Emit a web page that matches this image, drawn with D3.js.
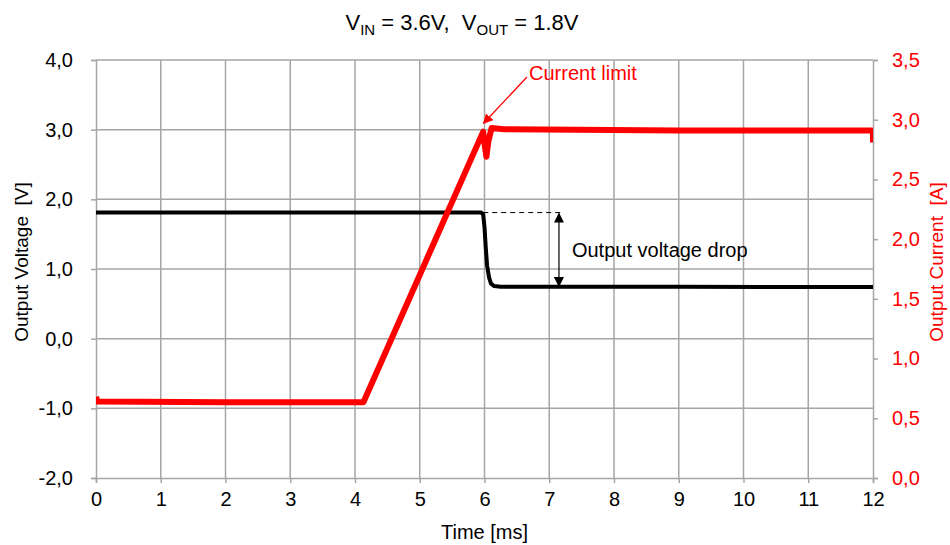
<!DOCTYPE html>
<html>
<head>
<meta charset="utf-8">
<script src="https://cdn.jsdelivr.net/npm/d3@7"></script>
<style>
  body { margin: 0; background: #fff; }
  svg text { font-family: Arial, "Liberation Sans", sans-serif; }
</style>
</head>
<body>
<div id="chart"></div>
<script>
// time [ms] / output voltage [V]
var voltTime = [0, 5.95, 5.98, 6.0, 6.02, 6.04, 6.07, 6.1, 6.15, 6.25, 9, 12];
var voltValues = [1.81, 1.81, 1.78, 1.6, 1.3, 1.05, 0.88, 0.79, 0.755, 0.745, 0.745, 0.74];

// time [ms] / output current [A]
var currTime = [0, 0.02, 2, 4.13, 5.98, 6.0, 6.03, 6.06, 6.11, 6.3, 9, 11.98, 12, 12];
var currValues = [0.68, 0.64, 0.635, 0.635, 2.90, 2.80, 2.69, 2.82, 2.93, 2.92, 2.91, 2.91, 2.90, 2.81];

var xTicks = d3.range(0, 13, 1);
var yLeftTicks = [-2, -1, 0, 1, 2, 3, 4];
var yRightTicks = [0, 0.5, 1, 1.5, 2, 2.5, 3, 3.5];

var width = 950, height = 545;
var margin = {top: 60, right: 77, bottom: 67, left: 96};
var w = width - margin.left - margin.right;
var h = height - margin.top - margin.bottom;
var gridColor = "#a6a6a6";
// comma decimals, plain hyphen for negatives
var fmt = function(d){ return d3.format(".1f")(d).replace(".", ",").replace("\u2212", "-"); };

var svg = d3.select("#chart").append("svg")
    .attr("width", width)
    .attr("height", height);

var defs = svg.append("defs");
defs.append("clipPath").attr("id", "clip")
  .append("rect").attr("width", w).attr("height", h);
function marker(id, color) {
  defs.append("marker")
      .attr("id", id)
      .attr("viewBox", "0 0 10 10")
      .attr("refX", 9).attr("refY", 5)
      .attr("markerWidth", 10).attr("markerHeight", 10)
      .attr("markerUnits", "userSpaceOnUse")
      .attr("orient", "auto-start-reverse")
    .append("path")
      .attr("d", "M0,0L10,5L0,10Z")
      .attr("fill", color);
}
marker("arrRed", "#ff0000");
marker("arrBlack", "#000");

var g = svg.append("g").attr("transform", "translate(" + margin.left + "," + margin.top + ")");

var x = d3.scaleLinear().domain([0, 12]).range([0, w]);
var yL = d3.scaleLinear().domain([-2, 4]).range([h, 0]);
var yR = d3.scaleLinear().domain([0, 3.5]).range([h, 0]);

//-------------------------------
// grid
g.append("g").selectAll("line")
  .data(xTicks.slice(1, -1)).enter().append("line")
    .attr("x1", function(d){ return x(d); }).attr("x2", function(d){ return x(d); })
    .attr("y1", 0).attr("y2", h)
    .attr("stroke", gridColor).attr("stroke-width", 1.5);
g.append("g").selectAll("line")
  .data(yLeftTicks.slice(1)).enter().append("line")
    .attr("x1", 0).attr("x2", w)
    .attr("y1", function(d){ return yL(d); }).attr("y2", function(d){ return yL(d); })
    .attr("stroke", gridColor).attr("stroke-width", 1.5);

//-------------------------------
// axes
function styleAxis(sel, color) {
  sel.select(".domain").attr("stroke", gridColor).attr("stroke-width", 1.5);
  sel.selectAll(".tick line").attr("stroke", gridColor).attr("stroke-width", 1.5);
  sel.selectAll(".tick text").attr("fill", color).style("font-size", "20px");
}

var xAxis = g.append("g")
    .attr("transform", "translate(0," + h + ")")
    .call(d3.axisBottom(x).tickValues(xTicks).tickFormat(d3.format("d")).tickSizeOuter(0).tickSize(5).tickPadding(9));
styleAxis(xAxis, "#000");

var yAxisL = g.append("g")
    .call(d3.axisLeft(yL).tickValues(yLeftTicks).tickFormat(fmt).tickSizeOuter(0).tickSize(5).tickPadding(18));
styleAxis(yAxisL, "#000");

var yAxisR = g.append("g")
    .attr("transform", "translate(" + w + ",0)")
    .call(d3.axisRight(yR).tickValues(yRightTicks).tickFormat(fmt).tickSizeOuter(0).tickSize(5).tickPadding(14));
styleAxis(yAxisR, "#ff0000");

//-------------------------------
// series
var plot = g.append("g").attr("clip-path", "url(#clip)");

var vLine = d3.line()
    .x(function(d, i){ return x(voltTime[i]); })
    .y(function(d){ return yL(d); });
plot.append("path")
    .datum(voltValues)
    .attr("d", vLine)
    .attr("fill", "none")
    .attr("stroke", "#000")
    .attr("stroke-width", 4)
    .attr("stroke-linejoin", "round");

var cLine = d3.line()
    .x(function(d, i){ return x(currTime[i]); })
    .y(function(d){ return yR(d); });
plot.append("path")
    .datum(currValues)
    .attr("d", cLine)
    .attr("fill", "none")
    .attr("stroke", "#ff0000")
    .attr("stroke-width", 6)
    .attr("stroke-linejoin", "round");

//-------------------------------
// annotations
g.append("line")
    .attr("x1", x(5.98)).attr("x2", x(7.2))
    .attr("y1", yL(1.81)).attr("y2", yL(1.81))
    .attr("stroke", "#000").attr("stroke-width", 1)
    .attr("stroke-dasharray", "5,4");
g.append("line")
    .attr("x1", x(7.15)).attr("x2", x(7.15))
    .attr("y1", yL(1.81) + 1).attr("y2", yL(0.74) - 1)
    .attr("stroke", "#000").attr("stroke-width", 1.2)
    .attr("marker-start", "url(#arrBlack)")
    .attr("marker-end", "url(#arrBlack)");
g.append("text")
    .attr("x", x(7.35)).attr("y", yL(1.27) + 7)
    .style("font-size", "20px")
    .text("Output voltage drop");

g.append("line")
    .attr("x1", 431).attr("y1", 17)
    .attr("x2", x(5.97) + 1).attr("y2", yR(2.97))
    .attr("stroke", "#ff0000").attr("stroke-width", 1.3)
    .attr("marker-end", "url(#arrRed)");
g.append("text")
    .attr("x", 433).attr("y", 20)
    .attr("fill", "#ff0000")
    .style("font-size", "20px")
    .text("Current limit");

//-------------------------------
// titles
var title = svg.append("text")
    .attr("x", 462).attr("y", 30)
    .attr("text-anchor", "middle")
    .style("font-size", "22px");
title.append("tspan").text("V");
title.append("tspan").attr("dy", 5).style("font-size", "15px").text("IN");
title.append("tspan").attr("dy", -5).text(" = 3.6V,\u00a0\u00a0V");
title.append("tspan").attr("dy", 5).style("font-size", "15px").text("OUT");
title.append("tspan").attr("dy", -5).text(" = 1.8V");

svg.append("text")
    .attr("x", margin.left + w / 2).attr("y", 539)
    .attr("text-anchor", "middle")
    .style("font-size", "20px")
    .text("Time [ms]");

svg.append("text")
    .attr("transform", "translate(28," + 262 + ")rotate(-90)")
    .attr("text-anchor", "middle")
    .style("font-size", "19px")
    .text("Output Voltage\u00a0\u00a0[V]");

svg.append("text")
    .attr("transform", "translate(943," + 262 + ")rotate(-90)")
    .attr("text-anchor", "middle")
    .attr("fill", "#ff0000")
    .style("font-size", "19px")
    .text("Output Current\u00a0\u00a0[A]");
</script>
</body>
</html>
